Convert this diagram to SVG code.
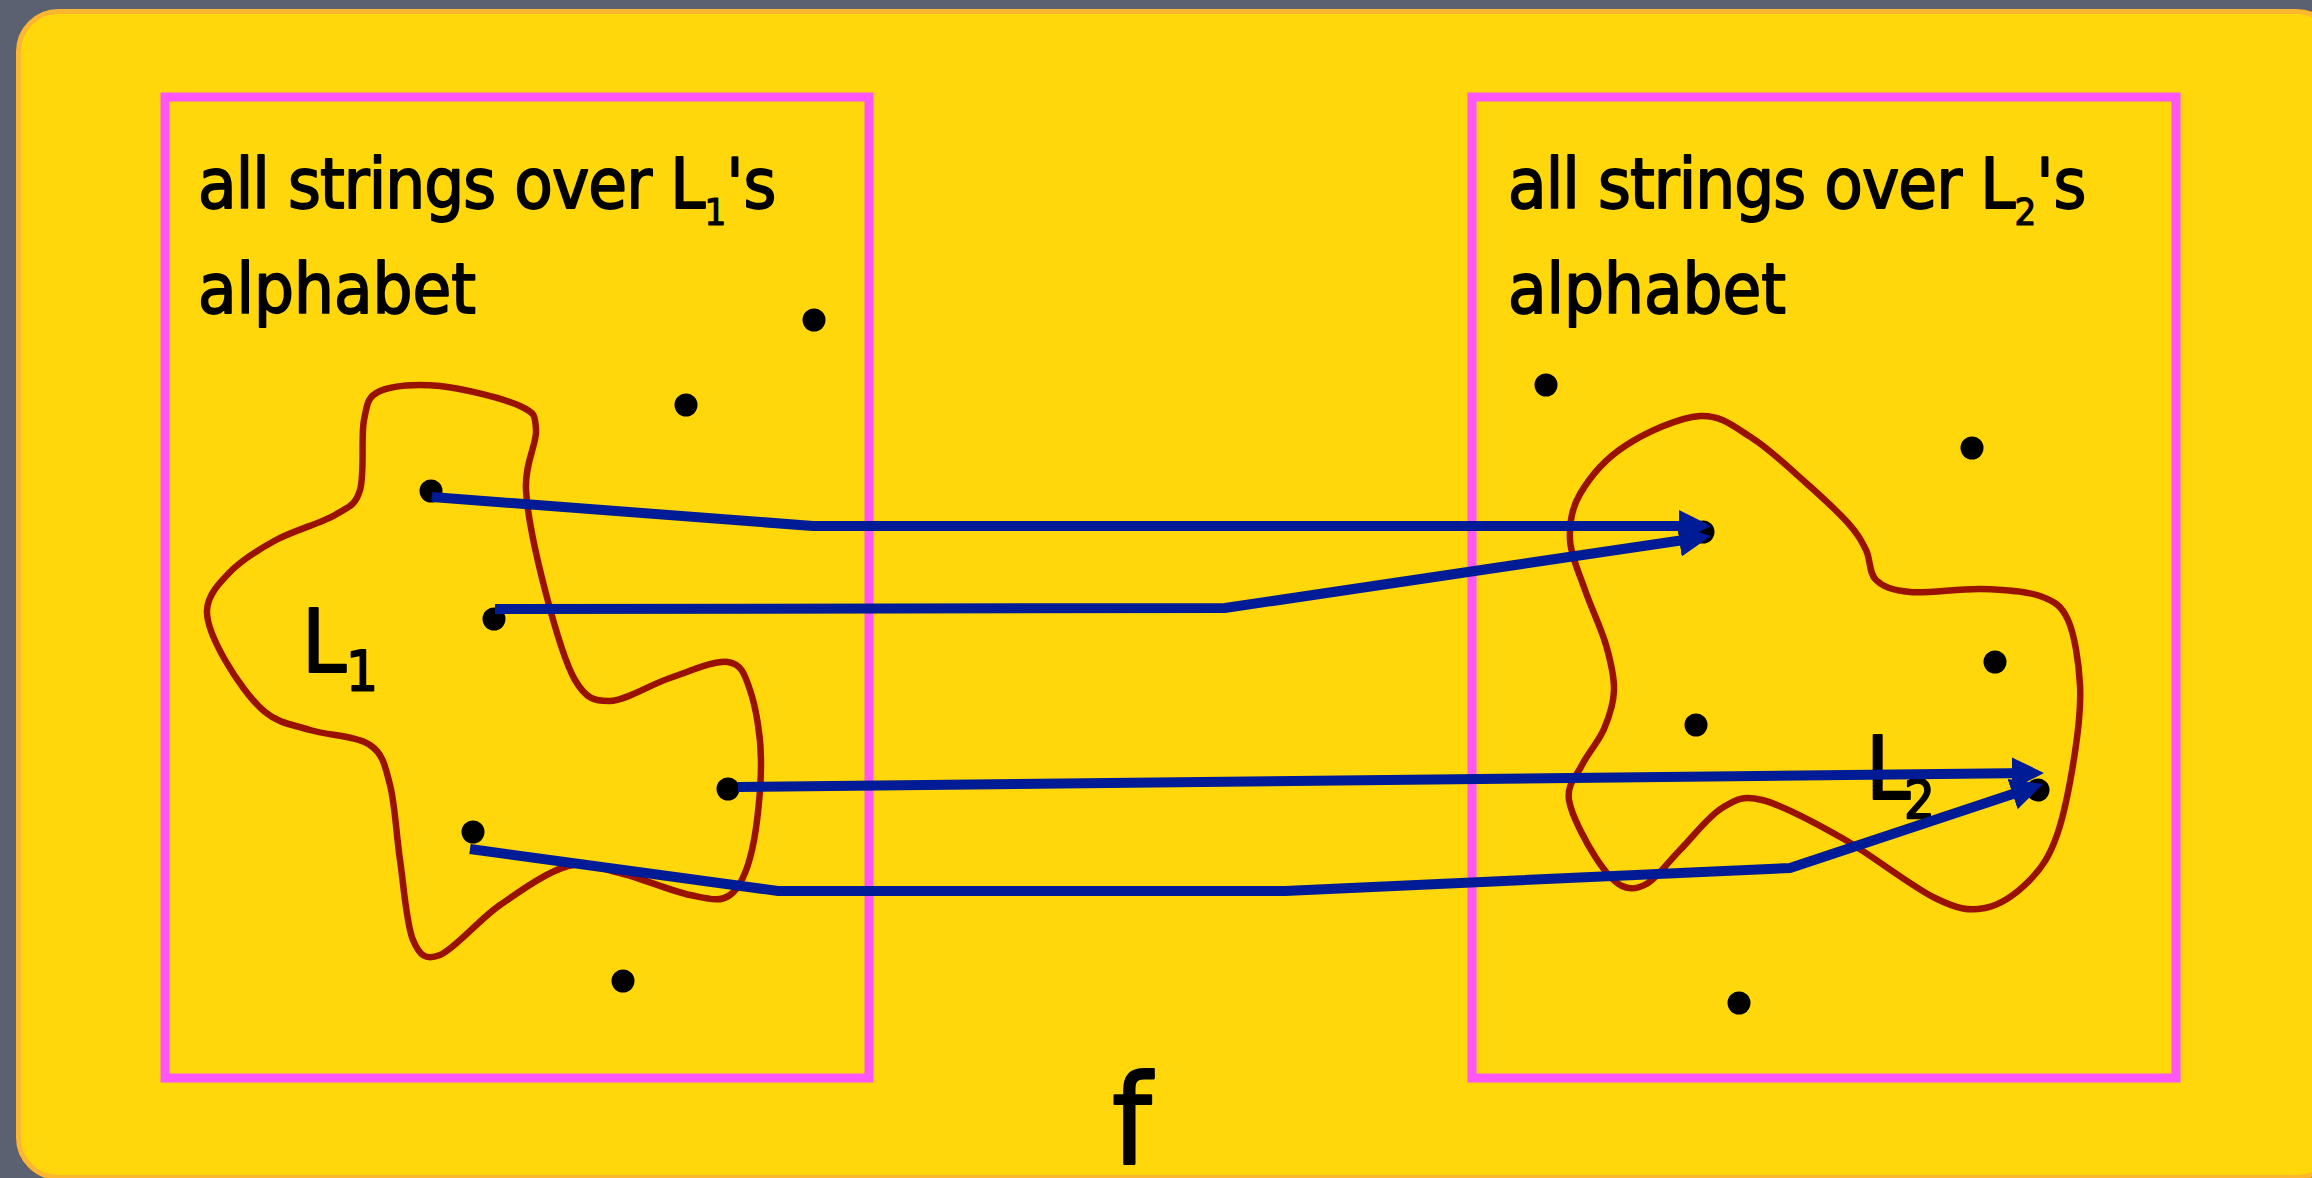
<svg xmlns="http://www.w3.org/2000/svg" width="2312" height="1178" viewBox="0 0 2312 1178">
  <style>
    .txt { font-family: "DejaVu Sans Condensed", "DejaVu Sans", "Liberation Sans", sans-serif; font-stretch: condensed; fill: #000000; stroke: #000000; stroke-width: 1.8px; stroke-linejoin: round; }
    .title { font-size: 70px; }
    .tight { letter-spacing: -0.9px; }
    .sub { font-size: 38px; stroke-width: 1.2px; }
    .big { stroke-width: 2.2px; }
    .set { fill: none; stroke: #FF57F7; stroke-width: 9; }
    .blob { fill: none; stroke: #991100; stroke-width: 6.5; }
    .dot { fill: #000000; }
    .arrow { fill: none; stroke: #001B96; stroke-width: 10; stroke-linejoin: miter; marker-end: url(#head); }
  </style>
  <defs>
    <marker id="head" markerUnits="userSpaceOnUse" markerWidth="40" markerHeight="40" viewBox="0 -20 40 40" refX="20" refY="0" orient="auto">
      <path d="M0,-16 L32,0 L0,16 Z" fill="#001B96"/>
    </marker>
  </defs>

  <rect x="0" y="0" width="2312" height="1178" fill="#5B6171"/>
  <rect id="frame" x="18.5" y="11.5" width="2318" height="1166" rx="40" ry="40" fill="#FFD70A" stroke="#FDB630" stroke-width="5"/>

  <g id="set-left">
    <rect class="set" x="165" y="97" width="704" height="981"/>
    <text class="txt title" x="198" y="208"><tspan class="tight">all strings over L</tspan><tspan class="sub" dy="17">1</tspan><tspan dy="-17">'s</tspan></text>
    <text class="txt title" x="198" y="313">alphabet</text>
  </g>

  <g id="set-right">
    <rect class="set" x="1472" y="97" width="704" height="981"/>
    <text class="txt title" x="1508" y="208"><tspan class="tight">all strings over L</tspan><tspan class="sub" dy="17">2</tspan><tspan dy="-17">'s</tspan></text>
    <text class="txt title" x="1508" y="313">alphabet</text>
  </g>

  <g id="lang-L1">
    <path class="blob" d="M 364 420 C 367.3 403.5 367.3 396.7 380 391 S 416.7 383.5 440 386 S 504 398.7 520 406 S 535 416 536 430 S 524.5 463.3 526 490 S 536.8 558.3 545 590 S 564.2 661.5 575 680 S 594.2 701.3 610 701 S 650.3 684.5 670 678 S 714.7 660 728 662 S 744.5 673.7 750 690 S 760.7 733.3 761 760 S 757.2 827.5 752 850 S 740.3 887.5 730 895 S 708.3 898.7 690 895 S 640.3 877.8 620 873 S 588 860.7 568 866 S 521.3 890.2 500 905 S 454.5 949.2 440 955 S 419.7 955.8 413 940 S 403.8 885.8 400 860 S 395 804.2 390 785 S 383.3 754.2 370 745 S 327.5 735.5 310 730 S 279.2 723.7 265 712 S 234.7 677 225 660 S 206.2 624.7 207 610 S 218.5 583.7 230 572 S 258.5 549.5 276 540 S 321 523.3 335 515 S 355.2 505.8 360 490 S 360.7 436.5 364 420 Z"/>
    <text class="txt big" x="302" y="672" font-size="88">L</text>
    <text class="txt" x="346" y="690" font-size="56">1</text>
  </g>

  <g id="lang-L2">
    <path class="blob" d="M 1700 416 C 1721.2 414.7 1734.5 427 1752 438 S 1789 467.8 1805 482 S 1837.8 511.7 1848 523 S 1861.3 540.5 1866 550 S 1868.7 573 1876 580 S 1892.3 590.5 1910 592 S 1960.3 588.3 1982 589 S 2025.7 590.8 2040 596 S 2061.3 605.2 2068 620 S 2078.8 663 2080 685 S 2078.8 727 2075 752 S 2064.5 813.7 2057 835 S 2042 867.8 2030 880 S 2000.8 905 1985 908 S 1958.8 909.7 1935 898 S 1870.8 854.3 1842 838 S 1782 805 1762 800 S 1735.7 799.7 1722 808 S 1692.3 837.5 1680 850 S 1657.7 877 1648 883 S 1630.7 890.2 1622 886 S 1604.8 871.5 1596 858 S 1571.3 815.5 1569 800 S 1576.2 776.8 1582 765 S 1598.7 741.5 1604 729 S 1613.7 704 1614 690 S 1610.8 661.7 1606 645 S 1591 607.5 1585 590 S 1570.8 556 1570 540 S 1570.8 509.7 1580 494 S 1605 459 1625 446 S 1678.8 417.3 1700 416 Z"/>
    <text class="txt big" x="1866" y="799" font-size="88">L</text>
    <text class="txt" x="1904" y="818" font-size="54">2</text>
  </g>

  <g id="strings">
    <circle class="dot" cx="814" cy="320" r="11.5"/>
    <circle class="dot" cx="686" cy="405" r="11.5"/>
    <circle class="dot" cx="431" cy="491" r="11.5"/>
    <circle class="dot" cx="494" cy="619" r="11.5"/>
    <circle class="dot" cx="728" cy="789" r="11.5"/>
    <circle class="dot" cx="473" cy="832" r="11.5"/>
    <circle class="dot" cx="623" cy="981" r="11.5"/>
    <circle class="dot" cx="1546" cy="385" r="11.5"/>
    <circle class="dot" cx="1972" cy="448" r="11.5"/>
    <circle class="dot" cx="1703" cy="532" r="11.5"/>
    <circle class="dot" cx="1995" cy="662" r="11.5"/>
    <circle class="dot" cx="1696" cy="725" r="11.5"/>
    <circle class="dot" cx="2038" cy="790" r="11.5"/>
    <circle class="dot" cx="1739" cy="1003" r="11.5"/>
  </g>

  <g id="connectors">
    <path class="arrow" d="M 432 497 L 813 526 L 1699 526"/>
    <path class="arrow" d="M 495 609 L 1225 608 L 1699.1 537.7"/>
    <path class="arrow" d="M 738 787 L 2032 773.1"/>
    <path class="arrow" d="M 470 849 L 778 891 L 1285 891 L 1790 868 L 2031.6 787.8"/>
  </g>

  <text id="label-f" class="txt big" x="1112" y="1164" font-size="125">f</text>
</svg>
